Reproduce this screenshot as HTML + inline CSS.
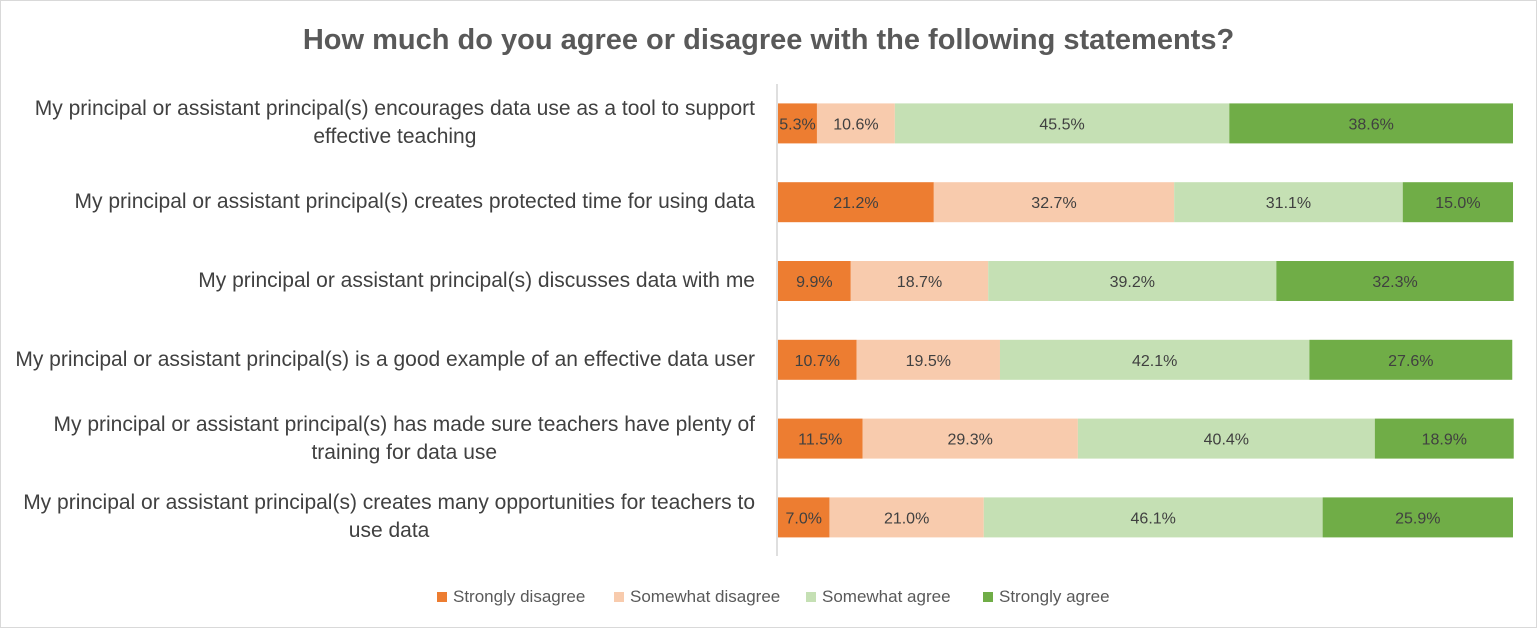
<!DOCTYPE html>
<html><head><meta charset="utf-8"><style>
body{margin:0;background:#fff;}
#wrap{position:relative;width:1537px;height:628px;overflow:hidden;font-family:"Liberation Sans",sans-serif;}
#frame{position:absolute;left:0;top:0;width:1535px;height:626px;border:1px solid #d9d9d9;}
#title{position:absolute;left:0;width:1537px;top:24px;text-align:center;font-size:29px;font-weight:bold;color:#595959;}
.cat{position:absolute;right:782px;width:max-content;white-space:pre-line;text-align:center;font-size:21px;color:#404040;line-height:28px;}
.leg{position:absolute;top:587px;font-size:17px;color:#595959;}
.leg span{display:inline-block;width:10px;height:10px;margin-right:6px;}
</style></head><body>
<div id="wrap">
<div id="frame"></div>
<div id="title">How much do you agree or disagree with the following statements?</div>
<div id="cats"></div>
<svg id="plot" width="1537" height="628" style="position:absolute;left:0;top:0"></svg>
<div class="leg" style="left:437px"><span style="background:#ED7D31"></span>Strongly disagree</div>
<div class="leg" style="left:614px"><span style="background:#F8CBAD"></span>Somewhat disagree</div>
<div class="leg" style="left:806px"><span style="background:#C5E0B4"></span>Somewhat agree</div>
<div class="leg" style="left:983px"><span style="background:#70AD47"></span>Strongly agree</div>
</div>
<script>
const categories=["My principal or assistant principal(s) encourages data use as a tool to support\neffective teaching","My principal or assistant principal(s) creates protected time for using data","My principal or assistant principal(s) discusses data with me","My principal or assistant principal(s) is a good example of an effective data user","My principal or assistant principal(s) has made sure teachers have plenty of\ntraining for data use","My principal or assistant principal(s) creates many opportunities for teachers to\nuse data"];
const stronglyDisagree=[5.3,21.2,9.9,10.7,11.5,7.0];
const somewhatDisagree=[10.6,32.7,18.7,19.5,29.3,21.0];
const somewhatAgree=[45.5,31.1,39.2,42.1,40.4,46.1];
const stronglyAgree=[38.6,15.0,32.3,27.6,18.9,25.9];
const series=[stronglyDisagree,somewhatDisagree,somewhatAgree,stronglyAgree];
const seriesNames=["strongly-disagree","somewhat-disagree","somewhat-agree","strongly-agree"];
const colors=["#ED7D31","#F8CBAD","#C5E0B4","#70AD47"];
const x0=778,x1=1513,yTop=84,pitch=78.8,barH=40;
const xs=v=>x0+(x1-x0)*v/100;
const yc=i=>yTop+pitch*(i+0.5);
const NS="http://www.w3.org/2000/svg";
const svg=document.getElementById('plot');
const cats=document.getElementById('cats');
categories.forEach((c,i)=>{
  const d=document.createElement('div');d.className='cat';
  
  
  d.textContent=c;cats.appendChild(d);
  const h=d.offsetHeight||28;d.style.top=(yc(i)-h/2)+'px';
  let acc=0;
  series.forEach((s,k)=>{
    const v=s[i];
    const r=document.createElementNS(NS,'rect');
    r.setAttribute('x',xs(acc));r.setAttribute('y',yc(i)-barH/2);
    r.setAttribute('width',xs(acc+v)-xs(acc));r.setAttribute('height',barH);
    r.setAttribute('fill',colors[k]);
    
    
    svg.appendChild(r);
    const t=document.createElementNS(NS,'text');
    t.setAttribute('x',(xs(acc)+xs(acc+v))/2);t.setAttribute('y',yc(i)+6);
    t.setAttribute('text-anchor','middle');t.setAttribute('font-size','16');
    t.setAttribute('fill','#404040');t.setAttribute('font-family','Liberation Sans, sans-serif');
    
    
    t.textContent=v.toFixed(1)+'%';svg.appendChild(t);
    acc+=v;
  });
});
const ax=document.createElementNS(NS,'line');
ax.setAttribute('x1',777);ax.setAttribute('x2',777);ax.setAttribute('y1',84);ax.setAttribute('y2',556);
ax.setAttribute('stroke','#bfbfbf');ax.setAttribute('stroke-width','1');


svg.appendChild(ax);
</script>
</body></html>
